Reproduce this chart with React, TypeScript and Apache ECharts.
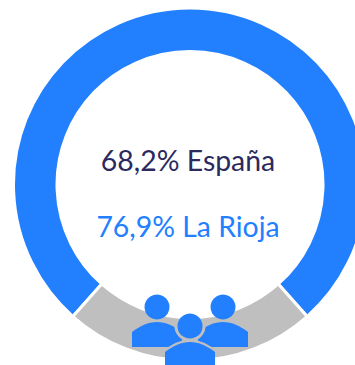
import React, { useEffect, useRef } from "react";
import * as echarts from "echarts";

const segmentNames = ["La Rioja", "Resto"];
const segmentValues = [76.9, 23.1];
const segmentColors = ["#2280ff", "#bfbfbf"];
const labels = ["68,2% España", "76,9% La Rioja"];
const labelColors = ["#2b2a5e", "#2280ff"];

const BODY = "M0 10 C8 4 16 0 25 0 C34 0 42 4 50 10 L50 25 L0 25 Z";
const BODY_TOP = "M-2 12 C8 4 16 0 25 0 C34 0 42 4 52 12";
echarts.graphic.registerShape("personBody", echarts.graphic.extendPath(BODY, {}) as any);
echarts.graphic.registerShape("personBodyTop", echarts.graphic.extendPath(BODY_TOP, {}) as any);

const BLUE = "#2280ff";
const GREY = "#bfbfbf";

function person(headX: number, headY: number, bodyTop: number): any[] {
  return [
    { type: "circle", shape: { cx: headX, cy: headY, r: 12.5 }, style: { fill: BLUE }, z: 10 },
    { type: "personBody", x: headX - 25, y: bodyTop, style: { fill: BLUE }, z: 10 },
  ];
}

export default function App() {
  const ref = useRef<HTMLDivElement>(null);
  useEffect(() => {
    document.body.style.margin = "0";
    const chart = echarts.init(ref.current!, undefined, { renderer: "svg" });
    chart.setOption({
      animation: false,
      series: [
        {
          type: "pie",
          center: [190, 184.5],
          radius: [133, 176.5],
          startAngle: 270 - (segmentValues[1] / 100) * 180,
          silent: true,
          label: { show: false },
          labelLine: { show: false },
          itemStyle: { borderColor: "#ffffff", borderWidth: 3 },
          data: segmentNames.map((name, i) => ({
            name,
            value: segmentValues[i],
            itemStyle: { color: segmentColors[i] },
          })),
        },
      ],
      graphic: [
        {
          type: "text",
          x: 188,
          y: 160,
          style: { text: labels[0], fill: labelColors[0], font: '28.4px Lato', align: "center", verticalAlign: "middle" },
        },
        {
          type: "text",
          x: 188,
          y: 226,
          style: { text: labels[1], fill: labelColors[1], font: '28.4px Lato', align: "center", verticalAlign: "middle" },
        },
        ...person(157, 307, 322),
        ...person(223, 307, 322),
        {
          type: "arc",
          shape: { cx: 190, cy: 326, r: 14, startAngle: -0.45, endAngle: Math.PI + 0.45, clockwise: true },
          style: { fill: "none", stroke: GREY, lineWidth: 3 },
          z: 11,
        },
        { type: "personBodyTop", x: 165, y: 342, style: { fill: "none", stroke: GREY, lineWidth: 5 }, z: 11 },
        { type: "circle", shape: { cx: 190, cy: 326, r: 12.5 }, style: { fill: BLUE }, z: 12 },
        { type: "personBody", x: 165, y: 342, style: { fill: BLUE }, z: 12 },
      ],
    });
    return () => chart.dispose();
  }, []);
  return <div ref={ref} style={{ width: 355, height: 365 }} />;
}
